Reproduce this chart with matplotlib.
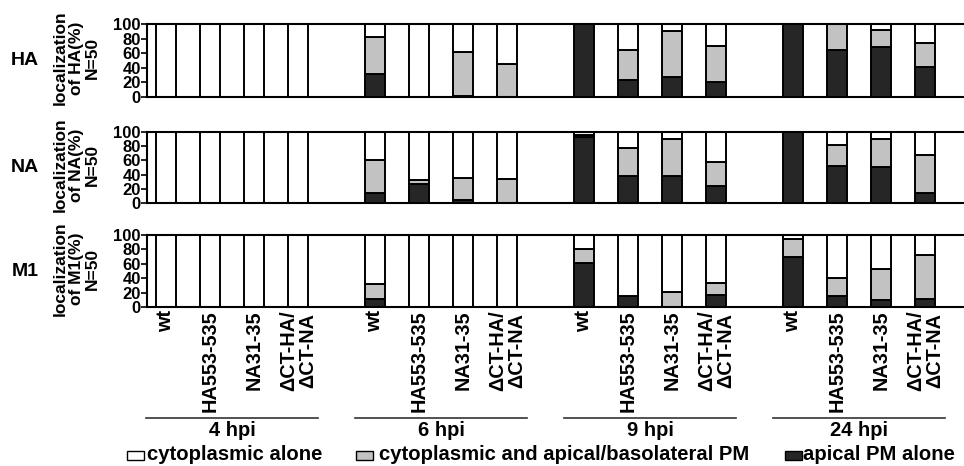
import matplotlib

matplotlib.use("Agg")
import matplotlib.pyplot as plt
from matplotlib.patches import Rectangle
from matplotlib.lines import Line2D
import numpy as np

plt.rcParams["font.family"] = ["Liberation Sans", "DejaVu Sans"]
plt.rcParams["font.weight"] = "bold"

# ---------------------------------------------------------------------------
# Data (percent of cells, N=50)
# ---------------------------------------------------------------------------
groups = ["4 hpi", "6 hpi", "9 hpi", "24 hpi"]
strains = ["wt", "HA553-535", "NA31-35", "ΔCT-HA/\nΔCT-NA"]
proteins = ["HA", "NA", "M1"]

# apical PM alone / cytoplasmic + apical/basolateral, per bar (4 groups x 4 strains)
ha_apical = [0, 0, 0, 0,   31, 0, 2, 0,    100, 23, 28, 20,   100, 64, 69, 41]
ha_mixed  = [0, 0, 0, 0,   51, 0, 60, 45,  0, 41, 63, 50,     0, 36, 23, 33]
na_apical = [0, 0, 0, 0,   14, 27, 5, 0,   93, 38, 38, 24,    100, 52, 51, 15]
na_mixed  = [0, 0, 0, 0,   46, 6, 30, 34,  3, 39, 52, 34,     0, 30, 39, 53]
m1_apical = [0, 0, 0, 0,   12, 0, 0, 0,    61, 15, 0, 17,     70, 15, 10, 11]
m1_mixed  = [0, 0, 0, 0,   20, 0, 0, 0,    20, 0, 21, 17,     25, 25, 43, 62]

legend_labels = ["cytoplasmic alone",
                 "cytoplasmic and apical/basolateral PM",
                 "apical PM alone"]

WHITE, GRAY, DARK = "white", "#c2c2c2", "#262626"

# ---------------------------------------------------------------------------
# Layout (pixels of a 964x466 figure)
# ---------------------------------------------------------------------------
W, H = 964, 466
fig = plt.figure(figsize=(W / 100, H / 100), dpi=100)

GROUP_STEP = 4.75
x = np.array([g * GROUP_STEP + i for g in range(4) for i in range(4)])
ax_left, ax_right = 147, 985
unit = 44.0
x0 = -(166 - ax_left) / unit
x1 = x0 + (ax_right - ax_left) / unit

panel_px = [(24, 97), (131.7, 203.3), (235, 307.3)]
data = [(ha_apical, ha_mixed), (na_apical, na_mixed), (m1_apical, m1_mixed)]

axes = []
for p, ((top, bot), (apical, mixed)) in enumerate(zip(panel_px, data)):
    ax = fig.add_axes([ax_left / W, 1 - bot / H,
                       (ax_right - ax_left) / W, (bot - top) / H])
    apical = np.array(apical, dtype=float)
    mixed = np.array(mixed, dtype=float)
    cyto = 100 - apical - mixed
    kw = dict(width=0.47, edgecolor="black", linewidth=1.4)
    ax.bar(x, apical, color=DARK, **kw)
    ax.bar(x, mixed, bottom=apical, color=GRAY, **kw)
    ax.bar(x, cyto, bottom=apical + mixed, color=WHITE, **kw)

    ax.set_xlim(x0, x1)
    ax.set_ylim(0, 100)
    ax.set_yticks([0, 20, 40, 60, 80, 100])
    ax.tick_params(axis="y", length=4, width=1.2, pad=0.5, labelsize=12)
    ax.tick_params(axis="x", length=0)
    for s in ("left", "top", "bottom"):
        ax.spines[s].set_linewidth(1.5)
    ax.spines["right"].set_visible(False)
    if p < 2:
        ax.set_xticks([])
    else:
        ax.set_xticks(x)
        ax.set_xticklabels(strains * 4, rotation=90, va="top",
                           fontsize=14.3, linespacing=1.0)
        ax.tick_params(axis="x", pad=2)

    yc = 1 - (top + bot) / 2 / H
    fig.text(76 / W, yc + 0.005, f"localization\nof {proteins[p]}(%)\nN=50",
             rotation=90, ha="center", va="center", fontsize=12.5,
             linespacing=1.1, fontweight="bold")
    fig.text(25 / W, yc, proteins[p], ha="center", va="center",
             fontsize=14, fontweight="bold")
    axes.append(ax)

# group brackets under the x labels
ax = axes[2]
line_y = 1 - 418 / H
for g, name in enumerate(groups):
    xc = g * GROUP_STEP + 1.5
    xp = ax_left + (xc - x0) * unit
    fig.add_artist(Line2D([(xp - 86) / W, (xp + 86) / W], [line_y, line_y],
                          color="#333333", linewidth=1.2))
    fig.text(xp / W, 1 - 431 / H, name, ha="center", va="center",
             fontsize=14.5, fontweight="bold")

# legend drawn by hand along the bottom
leg_y = 1 - 455 / H
for (bx, tx), color, label in zip([(127, 147), (356, 379), (785, 803)],
                                  [WHITE, GRAY, DARK], legend_labels):
    fig.add_artist(Rectangle((bx / W, leg_y - 4.5 / H), 17 / W, 9 / H,
                             facecolor=color, edgecolor="black",
                             linewidth=1.0))
    fig.text(tx / W, leg_y, label, ha="left", va="center",
             fontsize=14.6, fontweight="bold")

fig.savefig("out.png", dpi=100)
